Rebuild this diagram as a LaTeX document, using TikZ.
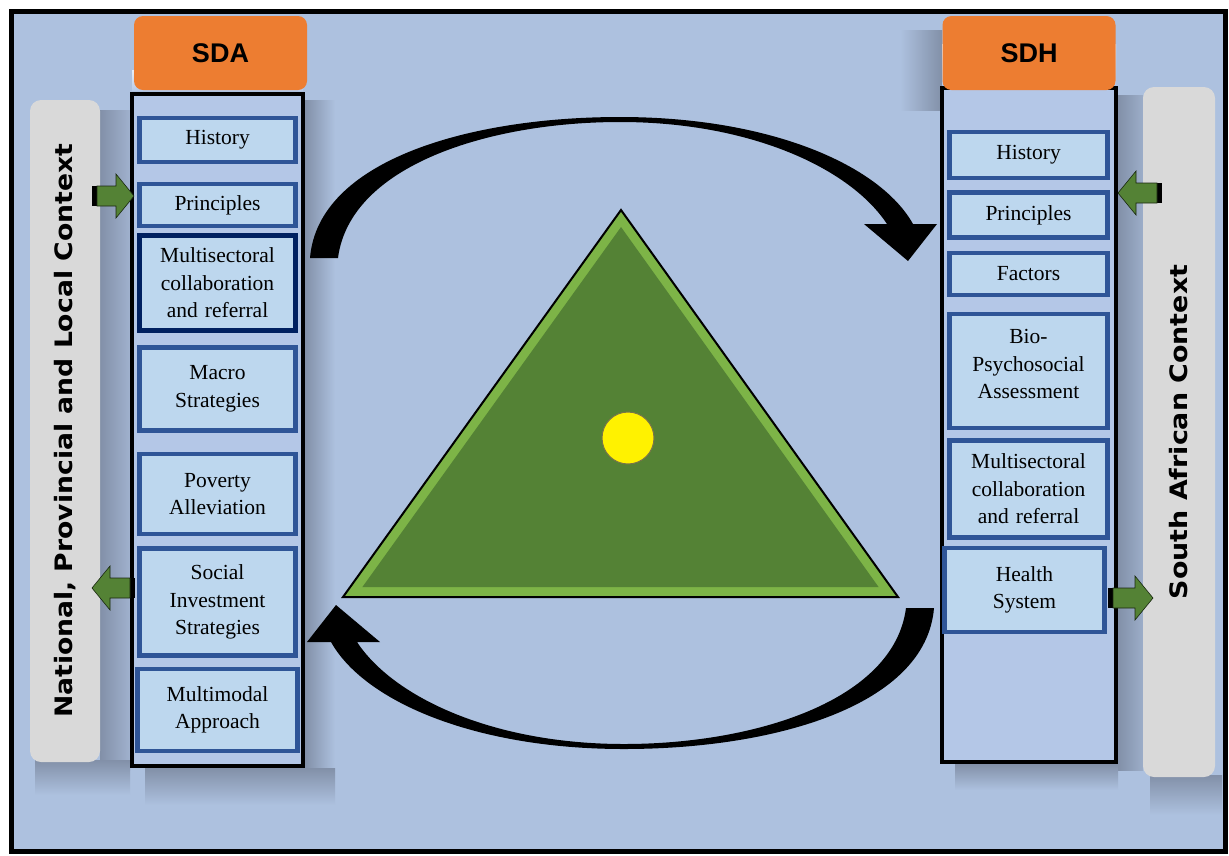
\documentclass[tikz,border=0pt]{standalone}
\usepackage{fontspec}
\setmainfont{Liberation Serif}
\newfontfamily\itemserif{Liberation Serif}
\newfontfamily\ctxsans{DejaVu Sans}
\newfontfamily\hdsans{Liberation Sans}
\definecolor{bgblue}{HTML}{ADC1DF}
\definecolor{colfill}{HTML}{B4C7E7}
\definecolor{itemfill}{HTML}{BDD7EE}
\definecolor{itemborder}{HTML}{2F5597}
\definecolor{navyb}{HTML}{002060}
\definecolor{orangeh}{HTML}{ED7D31}
\definecolor{ctxgrey}{HTML}{D9D9D9}
\definecolor{greenA}{HTML}{548235}
\definecolor{greenL}{HTML}{7DB447}
\definecolor{shadowc}{HTML}{8290A8}
\tikzset{
  itembox/.style={draw=itemborder, line width=4.5pt, fill=itemfill, align=center,
    font=\itemserif\fontsize{21.5}{27.5}\selectfont, inner sep=0pt, text width=156pt},
  header/.style={fill=orangeh, rounded corners=9pt, font=\hdsans\bfseries\fontsize{27}{30}\selectfont,
    minimum width=173pt, minimum height=74pt, inner sep=0pt},
  column/.style={draw=black, line width=4pt, fill=colfill, inner sep=0pt},
  ctxbar/.style={fill=ctxgrey, rounded corners=11pt, inner sep=0pt},
  ctxtext/.style={rotate=90, font=\ctxsans\bfseries\fontsize{24}{28}\selectfont},
  garrow/.style={fill=greenA, draw=black!70!greenA, line width=0.6pt},
  curvearrow/.style={fill=black},
}
\newcommand\garrowR[3]{% tail x, tip x, y (pointing right)
  \fill[black] ({#1-2},{#3-10}) rectangle ({#1+4},{#3+10});
  \path[garrow] ({#1+3},{#3-10}) -- ({#2-18},{#3-10}) -- ({#2-18},{#3-22}) -- (#2,#3)
    -- ({#2-18},{#3+22}) -- ({#2-18},{#3+10}) -- ({#1+3},{#3+10}) -- cycle;}
\newcommand\garrowL[3]{% tail x, tip x, y (pointing left)
  \fill[black] ({#1-4},{#3-10}) rectangle ({#1+2},{#3+10});
  \path[garrow] ({#1-3},{#3-10}) -- ({#2+18},{#3-10}) -- ({#2+18},{#3-22}) -- (#2,#3)
    -- ({#2+18},{#3+22}) -- ({#2+18},{#3+10}) -- ({#1-3},{#3+10}) -- cycle;}
\newcommand\cyclearrowpath{%
  (310,258) .. controls (318,160) and (470,117) .. (620,117)
  .. controls (770,117) and (880,165) .. (913,224) -- (937,224) -- (908,261) -- (864,224) -- (887,224)
  .. controls (850,168) and (750,122) .. (620,122)
  .. controls (490,122) and (350,165) .. (338,258) -- cycle}
\begin{document}
\begin{tikzpicture}[x=1pt,y=-1pt]
\useasboundingbox (0,0) rectangle (1229,855);
\fill[white] (0,0) rectangle (1229,855);
\draw[line width=5pt, fill=bgblue] (11,11) rectangle (1225,851);

% soft shadows
\shade[left color=shadowc, right color=bgblue] (305,100) rectangle (335,775);
\shade[top color=shadowc, bottom color=bgblue] (145,768) rectangle (335,805);
\shade[left color=shadowc, right color=colfill!60!shadowc] (100,110) rectangle (130,770);
\shade[top color=shadowc, bottom color=bgblue] (35,760) rectangle (130,795);
\shade[left color=bgblue, right color=shadowc] (900,30) rectangle (942,110);
\shade[left color=shadowc, right color=bgblue!60!shadowc] (1118,95) rectangle (1143,770);
\shade[top color=shadowc, bottom color=bgblue] (1150,775) rectangle (1222,815);
\shade[top color=shadowc, bottom color=bgblue] (955,764) rectangle (1118,790);

% context bars
\node[ctxbar, minimum width=70pt, minimum height=662pt] (ctxL) at (65,431) {};
\node[ctxtext] (ctxLt) at (ctxL.center) {\scalebox{1.11}[1]{National, Provincial and Local Context}};
\node[ctxbar, minimum width=72pt, minimum height=690pt] (ctxR) at (1179,432) {};
\node[ctxtext] (ctxRt) at (ctxR.center) {\scalebox{1.12}[1]{South African Context}};

% columns
\node[column, minimum width=171pt, minimum height=672pt] (sdaCol) at (217.5,430) {};
\node[column, minimum width=174pt, minimum height=674pt] (sdhCol) at (1029,425) {};
\shade[top color=white!70!colfill, bottom color=colfill] (sdaCol.north west) ++(2,-2) rectangle ++(171,-20);
\shade[top color=white!70!colfill, bottom color=colfill] (sdhCol.north west) ++(2,-2) rectangle ++(174,-40);

% headers
\node[header] (sda) at (220.5,53) {SDA};
\node[header] (sdh) at (1029,53) {SDH};

% SDA items
\node[itembox, minimum width=156pt, minimum height=44pt] (a1) at (217.5,140) {History};
\node[itembox, minimum width=156pt, minimum height=42pt] (a2) at (217.5,205) {Principles};
\node[itembox, draw=navyb, minimum width=156pt, minimum height=95pt] (a3) at (217.5,283) {Multisectoral\\collaboration\\and referral};
\node[itembox, minimum width=156pt, minimum height=83pt] (a4) at (217.5,389) {Macro\\Strategies};
\node[itembox, minimum width=156pt, minimum height=80pt] (a5) at (217.5,494) {Poverty\\Alleviation};
\node[itembox, minimum width=156pt, minimum height=107pt] (a6) at (217.5,602) {Social\\Investment\\Strategies};
\node[itembox, minimum width=160pt, minimum height=82pt] (a7) at (217.5,710) {Multimodal\\Approach};

% SDH items
\node[itembox, minimum width=158pt, minimum height=46pt] (b1) at (1028.5,155) {History};
\node[itembox, minimum width=158pt, minimum height=45pt] (b2) at (1028.5,215) {Principles};
\node[itembox, minimum width=158pt, minimum height=42pt] (b3) at (1028.5,274) {Factors};
\node[itembox, minimum width=158pt, minimum height=114pt] (b4) at (1028.5,371) {Bio-\\Psychosocial\\Assessment\\[-14pt]\mbox{}};
\node[itembox, minimum width=158pt, minimum height=97pt] (b5) at (1028.5,489) {Multisectoral\\collaboration\\and referral};
\node[itembox, minimum width=160pt, minimum height=84pt] (b6) at (1024.5,590) {Health\\System};

% green arrows
\garrowR{94}{134}{196}
\garrowL{133}{92}{588}
\garrowL{1160}{1118}{193}
\garrowR{1110}{1153}{598}

% triangle
\coordinate (tA) at (621,210);
\coordinate (tB) at (343,597);
\coordinate (tC) at (898,597);
\fill[greenL] (tA) -- (tB) -- (tC) -- cycle;
\fill[greenA] (621,227) -- (362.4,587) -- (878.6,587) -- cycle;
\draw[black, line width=2pt, line join=miter] (tA) -- (tB) -- (tC) -- cycle;
\node[circle, fill=yellow, draw=black!60!yellow, line width=1pt, minimum size=52pt, inner sep=0pt] (core) at (628,438) {};

% curved arrows
\path[curvearrow] \cyclearrowpath;
\begin{scope}[rotate around={180:(622,433)}]
\path[curvearrow] \cyclearrowpath;
\end{scope}
\end{tikzpicture}
\end{document}
